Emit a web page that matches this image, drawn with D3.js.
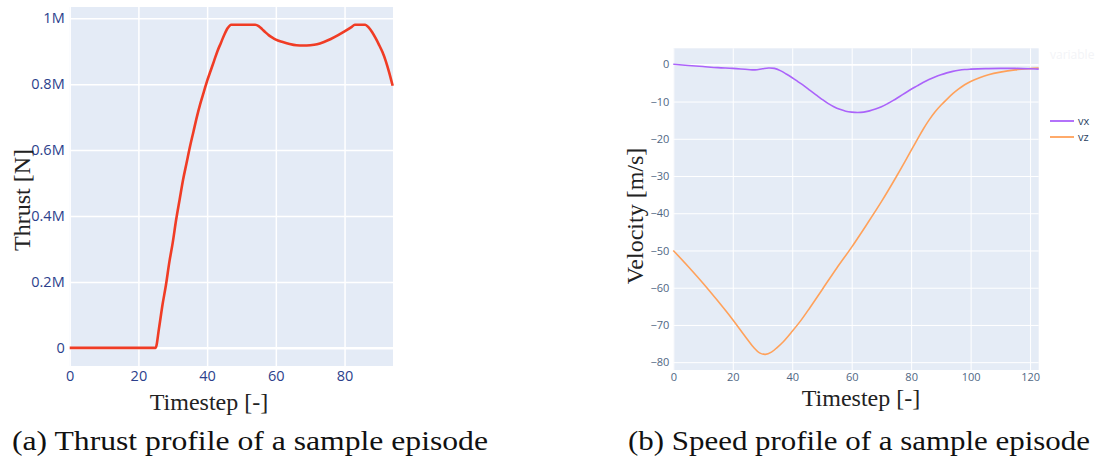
<!DOCTYPE html>
<html>
<head>
<meta charset="utf-8">
<script src="https://cdn.jsdelivr.net/npm/d3@7"></script>
<style>
  body { margin: 0; background: #fff; }
  svg { display: block; }
</style>
</head>
<body>
<svg id="chart" width="1096" height="462"></svg>
<script>
// thrust profile (panel a)
var thrustSteps = [0, 5, 10, 15, 20, 25, 26, 27, 28, 29, 30, 31, 32, 33, 34, 35, 36, 37, 38, 39, 40,
  41, 42, 43, 44, 45, 46, 47, 50, 54, 55, 56, 57, 58, 59, 60, 62, 64, 66, 68, 70, 72, 74, 76, 78,
  80, 82, 83, 86, 87, 88, 89, 90, 91, 92, 93, 94];
var thrustValues = [0, 0, 0, 0, 0, 0, 0.06, 0.13, 0.19, 0.26, 0.32, 0.39, 0.45, 0.51, 0.56, 0.61, 0.655, 0.70, 0.74, 0.775, 0.81,
  0.84, 0.87, 0.90, 0.925, 0.95, 0.97, 0.98, 0.98, 0.98, 0.976, 0.967, 0.957, 0.948, 0.941, 0.935, 0.928, 0.922, 0.918, 0.917, 0.918, 0.921, 0.928, 0.937, 0.948,
  0.96, 0.973, 0.98, 0.98, 0.972, 0.958, 0.94, 0.92, 0.898, 0.87, 0.835, 0.795].map(function(v) { return v * 1e6; });
var thrustYTicks = [0, 200000, 400000, 600000, 800000, 1000000];
var thrustYLabels = ['0', '0.2M', '0.4M', '0.6M', '0.8M', '1M'];
var thrustXTicks = [0, 20, 40, 60, 80];

// speed profile (panel b)
var vxSteps = [0, 5, 10, 15, 20, 25, 27.5, 30, 32, 34, 36, 38, 40, 42, 44, 46, 48, 50, 52, 54, 56, 58, 60, 62, 64, 66, 68, 70,
  72, 74, 76, 78, 80, 82, 84, 86, 88, 90, 92, 94, 96, 98, 100, 105, 110, 115, 120, 122.9];
var vx = [0, -0.3, -0.6, -0.9, -1.1, -1.4, -1.5, -1.2, -1.0, -1.1, -1.7, -2.6, -3.6, -4.7, -5.8, -7.0, -8.2, -9.4, -10.5, -11.4, -12.1, -12.6, -12.85, -12.95, -12.85, -12.5, -12.0, -11.4,
  -10.6, -9.7, -8.7, -7.7, -6.7, -5.8, -4.9, -4.1, -3.4, -2.8, -2.3, -1.9, -1.6, -1.4, -1.3, -1.15, -1.1, -1.1, -1.2, -1.3];
var vzSteps = [0, 5, 10, 15, 20, 24, 27, 29, 31, 33, 35, 37, 40, 43, 46, 50, 55, 60, 65, 70, 75, 78, 80, 82, 84, 86, 88, 90,
  92, 94, 96, 98, 100, 103, 106, 110, 115, 120, 122.9];
var vz = [-50, -54.3, -58.8, -63.6, -68.6, -72.9, -76.0, -77.5, -77.9, -77.3, -76.0, -74.5, -71.7, -68.7, -65.3, -60.6, -54.7, -49.1, -43.1, -36.9, -30.2, -26.0, -23.1, -20.3, -17.5, -15.0, -12.8, -11.0,
  -9.4, -7.9, -6.6, -5.5, -4.6, -3.6, -2.8, -2.1, -1.5, -1.15, -1.0];
var speedYTicks = [0, -10, -20, -30, -40, -50, -60, -70, -80];
var speedXTicks = [0, 20, 40, 60, 80, 100, 120];
var seriesNames = ['vx', 'vz'];
var seriesColors = ['#ab63fa', '#ffa15a'];

var svg = d3.select('#chart');

// ---------- panel a ----------
var xA = d3.scaleLinear().domain([0, 94.1]).range([69.7, 393]);
var yA = d3.scaleLinear().domain([-55000, 1034000]).range([366, 7]);

var gA = svg.append('g');
gA.append('rect')
  .attr('x', xA.range()[0]).attr('y', yA.range()[1])
  .attr('width', xA.range()[1] - xA.range()[0])
  .attr('height', yA.range()[0] - yA.range()[1])
  .style('fill', '#e4ebf6');

// grid
gA.append('g')
  .attr('transform', 'translate(0,' + yA.range()[0] + ')')
  .call(d3.axisBottom(xA).tickValues(thrustXTicks).tickSize(-(yA.range()[0] - yA.range()[1])).tickFormat(''))
  .call(function(g) { g.select('.domain').remove(); })
  .selectAll('line').style('stroke', '#fff').style('stroke-width', 1.5);
gA.append('g')
  .attr('transform', 'translate(' + xA.range()[0] + ',0)')
  .call(d3.axisLeft(yA).tickValues(thrustYTicks).tickSize(-(xA.range()[1] - xA.range()[0])).tickFormat(''))
  .call(function(g) { g.select('.domain').remove(); })
  .selectAll('line').style('stroke', '#fff').style('stroke-width', function(d) { return d === 0 ? 2.5 : 1.5; });

// tick labels
gA.append('g')
  .attr('transform', 'translate(0,' + yA.range()[0] + ')')
  .call(d3.axisBottom(xA).tickValues(thrustXTicks).tickSize(0).tickPadding(5))
  .call(function(g) { g.select('.domain').remove(); })
  .selectAll('text').style('font-family', 'Open Sans').style('font-size', '14.5px').style('fill', '#2c3f8c');
gA.append('g')
  .attr('transform', 'translate(' + xA.range()[0] + ',0)')
  .call(d3.axisLeft(yA).tickValues(thrustYTicks).tickSize(0).tickPadding(5)
    .tickFormat(function(d, i) { return thrustYLabels[i]; }))
  .call(function(g) { g.select('.domain').remove(); })
  .selectAll('text').style('font-family', 'Open Sans').style('font-size', '14.5px').style('fill', '#2c3f8c');

gA.append('path')
  .datum(thrustSteps.map(function(s, i) { return [s, thrustValues[i]]; }))
  .attr('d', d3.line().x(function(d) { return xA(d[0]); }).y(function(d) { return yA(d[1]); }).curve(d3.curveMonotoneX))
  .style('fill', 'none').style('stroke', '#f03c25').style('stroke-width', 2.6);

gA.append('text')
  .attr('x', 209).attr('y', 410)
  .attr('text-anchor', 'middle')
  .style('font-family', 'Liberation Serif').style('font-size', '24px').style('fill', '#222')
  .text('Timestep [-]');
gA.append('text')
  .attr('transform', 'translate(30,200) rotate(-90)')
  .attr('text-anchor', 'middle')
  .style('font-family', 'Liberation Serif').style('font-size', '24px').style('fill', '#222')
  .text('Thrust [N]');

// ---------- panel b ----------
var xB = d3.scaleLinear().domain([0, 122.9]).range([673.3, 1038.7]);
var yB = d3.scaleLinear().domain([-82.1, 4.3]).range([370, 48.3]);

var gB = svg.append('g');
gB.append('rect')
  .attr('x', xB.range()[0]).attr('y', yB.range()[1])
  .attr('width', xB.range()[1] - xB.range()[0])
  .attr('height', yB.range()[0] - yB.range()[1])
  .style('fill', '#e5ecf6');

gB.append('g')
  .attr('transform', 'translate(0,' + yB.range()[0] + ')')
  .call(d3.axisBottom(xB).tickValues(speedXTicks).tickSize(-(yB.range()[0] - yB.range()[1])).tickFormat(''))
  .call(function(g) { g.select('.domain').remove(); })
  .selectAll('line').style('stroke', '#fff').style('stroke-width', 1);
gB.append('g')
  .attr('transform', 'translate(' + xB.range()[0] + ',0)')
  .call(d3.axisLeft(yB).tickValues(speedYTicks).tickSize(-(xB.range()[1] - xB.range()[0])).tickFormat(''))
  .call(function(g) { g.select('.domain').remove(); })
  .selectAll('line').style('stroke', '#fff').style('stroke-width', function(d) { return d === 0 ? 1.8 : 1; });

gB.append('g')
  .attr('transform', 'translate(0,' + yB.range()[0] + ')')
  .call(d3.axisBottom(xB).tickValues(speedXTicks).tickSize(0).tickPadding(3))
  .call(function(g) { g.select('.domain').remove(); })
  .selectAll('text').style('font-family', 'Open Sans').style('font-size', '11px').style('fill', '#506784');
gB.append('g')
  .attr('transform', 'translate(' + xB.range()[0] + ',0)')
  .call(d3.axisLeft(yB).tickValues(speedYTicks).tickSize(0).tickPadding(4)
    .tickFormat(function(d) { return d < 0 ? '\u2212' + (-d) : d; }))
  .call(function(g) { g.select('.domain').remove(); })
  .selectAll('text').style('font-family', 'Open Sans').style('font-size', '11px').style('fill', '#506784');

var lineB = d3.line().x(function(d) { return xB(d[0]); }).y(function(d) { return yB(d[1]); }).curve(d3.curveCatmullRom.alpha(0.5));
gB.append('path')
  .datum(vzSteps.map(function(s, i) { return [s, vz[i]]; }))
  .attr('d', lineB)
  .style('fill', 'none').style('stroke', seriesColors[1]).style('stroke-width', 1.6);
gB.append('path')
  .datum(vxSteps.map(function(s, i) { return [s, vx[i]]; }))
  .attr('d', lineB)
  .style('fill', 'none').style('stroke', seriesColors[0]).style('stroke-width', 1.6);

// legend
var legend = gB.append('g').attr('transform', 'translate(1050,121)');
legend.append('text')
  .attr('x', 0).attr('y', -62)
  .style('font-family', 'Open Sans').style('font-size', '12px').style('fill', '#f3f4f7')
  .text('variable');
seriesNames.forEach(function(name, i) {
  var item = legend.append('g').attr('transform', 'translate(0,' + (i * 16) + ')');
  item.append('line').attr('x1', 0).attr('x2', 24).attr('y1', 0).attr('y2', 0)
    .style('stroke', seriesColors[i]).style('stroke-width', 1.8);
  item.append('text').attr('x', 28).attr('y', 4)
    .style('font-family', 'Open Sans').style('font-size', '11px').style('fill', '#2a3f5f')
    .text(name);
});

gB.append('text')
  .attr('x', 861).attr('y', 406)
  .attr('text-anchor', 'middle')
  .style('font-family', 'Liberation Serif').style('font-size', '24px').style('fill', '#222')
  .text('Timestep [-]');
gB.append('text')
  .attr('transform', 'translate(643,216) rotate(-90)')
  .attr('text-anchor', 'middle')
  .style('font-family', 'Liberation Serif').style('font-size', '24px').style('fill', '#222')
  .text('Velocity [m/s]');

// captions
svg.append('text')
  .attr('x', 12).attr('y', 450)
  .attr('textLength', 476).attr('lengthAdjust', 'spacingAndGlyphs')
  .style('font-family', 'Liberation Serif').style('font-size', '28px').style('fill', '#111')
  .text('(a) Thrust profile of a sample episode');
svg.append('text')
  .attr('x', 628).attr('y', 450)
  .attr('textLength', 462).attr('lengthAdjust', 'spacingAndGlyphs')
  .style('font-family', 'Liberation Serif').style('font-size', '28px').style('fill', '#111')
  .text('(b) Speed profile of a sample episode');
</script>
</body>
</html>
